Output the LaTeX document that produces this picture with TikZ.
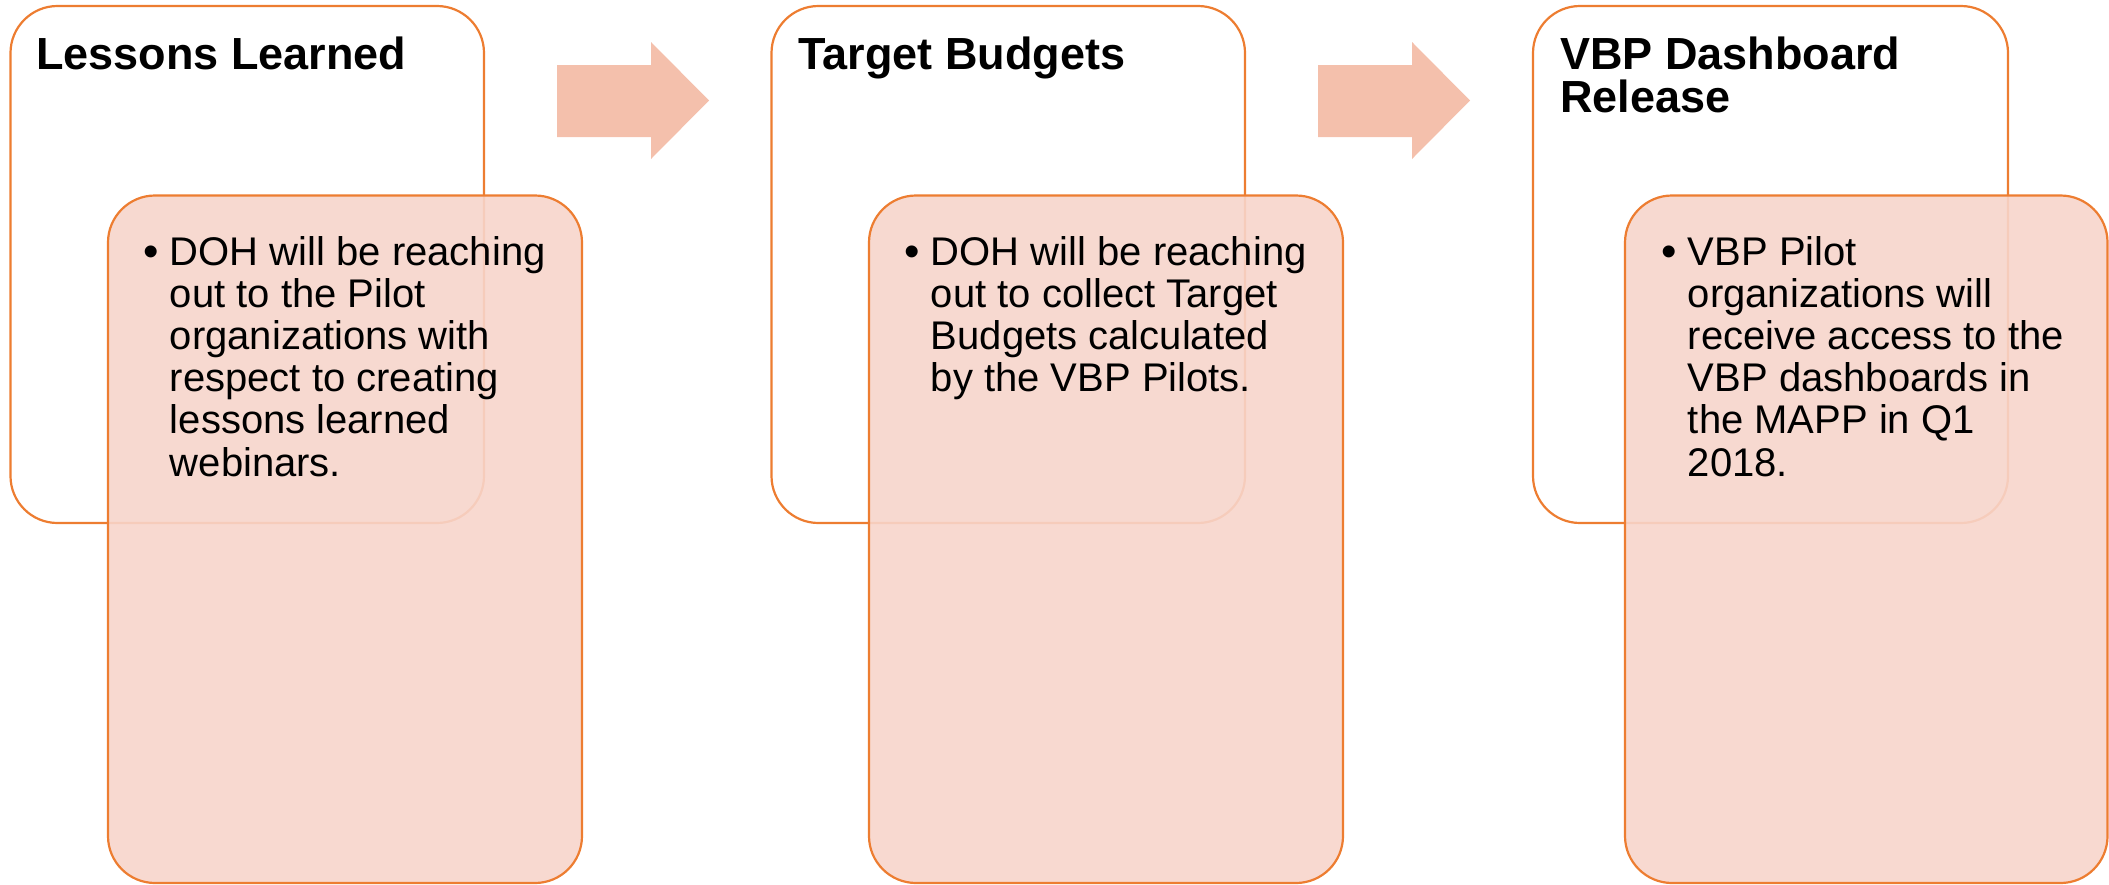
\documentclass[tikz,border=0pt]{standalone}
\usepackage{fontspec}
\setmainfont{Liberation Sans}
\definecolor{edge}{HTML}{ED7D31}
\definecolor{arrowfill}{HTML}{F4C0AC}
\definecolor{innerfill}{HTML}{F7D5CB}
\begin{document}
\begin{tikzpicture}[x=0.5pt,y=-0.5pt,
  outerbox/.style={draw=edge, line width=1.1pt, rounded corners=23.5pt, fill=white},
  innerbox/.style={draw=edge, line width=1.1pt, rounded corners=23.5pt, fill=innerfill, fill opacity=0.9},
  arrowshape/.style={fill=arrowfill, draw=none},
  titletext/.style={anchor=base west, inner sep=0pt, font=\fontsize{22.5pt}{21.5pt}\selectfont\bfseries, align=left},
  bodytext/.style={anchor=base west, inner sep=0pt, font=\fontsize{20pt}{21.1pt}\selectfont, align=left},
  bullettext/.style={anchor=base west, inner sep=0pt, font=\fontsize{22pt}{22pt}\selectfont},
]
\useasboundingbox (0,0) rectangle (2109,884);
% outer boxes
\draw[outerbox] (10.5,6) rectangle (484,523);
\draw[outerbox] (771.5,6) rectangle (1245,523);
\draw[outerbox] (1533,6) rectangle (2008,523);
% arrows
\fill[arrowshape] (557,65) -- (651,65) -- (651,42) -- (709,100.5) -- (651,159) -- (651,137) -- (557,137) -- cycle;
\fill[arrowshape] (1318,65) -- (1412,65) -- (1412,42) -- (1470,100.5) -- (1412,159) -- (1412,137) -- (1318,137) -- cycle;
% titles (anchor = baseline of last line)
\node[titletext] (t1) at (36,69) {Lessons Learned};
\node[titletext] (t2) at (798,69) {Target Budgets};
\node[titletext] (t3) at (1560,112) {VBP Dashboard\\Release};
% inner boxes
\draw[innerbox] (108,195.5) rectangle (582,883);
\draw[innerbox] (869,195.5) rectangle (1343,883);
\draw[innerbox] (1625,195.5) rectangle (2107.5,883);
% body text (anchor = baseline of last line)
\node[bullettext] (b1) at (143,266) {•};
\node[bodytext] (d1) at (169.5,476) {DOH will be reaching\\out to the Pilot\\organizations with\\respect to creating\\lessons learned\\webinars.};
\node[bullettext] (b2) at (904,266) {•};
\node[bodytext] (d2) at (930.5,391.6) {DOH will be reaching\\out to collect Target\\Budgets calculated\\by the VBP Pilots.};
\node[bullettext] (b3) at (1661,266) {•};
\node[bodytext] (d3) at (1687.5,476) {VBP Pilot\\organizations will\\receive access to the\\VBP dashboards in\\the MAPP in Q1\\2018.};
\end{tikzpicture}
\end{document}
